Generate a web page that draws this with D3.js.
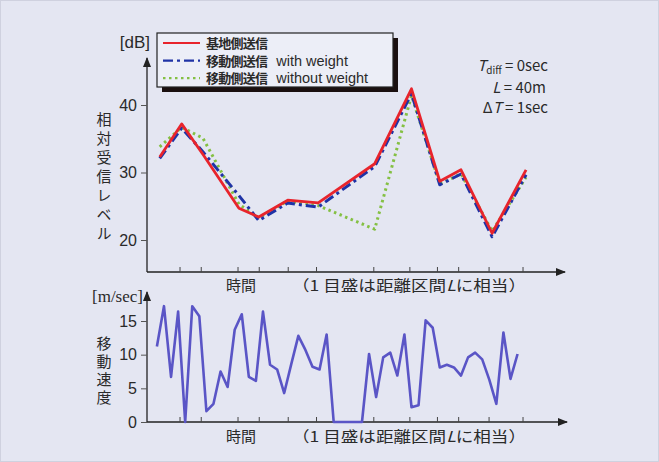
<!DOCTYPE html>
<html>
<head>
<meta charset="utf-8">
<script src="https://cdn.jsdelivr.net/npm/d3@7"></script>
<style>
  body { margin: 0; background: #e4e6f2; }
  svg { display: block; }
  text { font-family: "Noto Sans CJK JP", "Noto Sans", sans-serif; fill: #2a2a2a; }
</style>
</head>
<body>
<div id="chart"></div>
<script>
// time axis (seconds) of the level samples and the distance ticks
const levelTimes = [0.4, 3.5, 6.5, 11.6, 14.4, 18.5, 22.8, 30.8, 36, 40, 43, 47.4, 52.2];
const tickTimes = [3.2, 6.2, 11.4, 14.4, 18.5, 22.5, 30.6, 35.7, 39.6, 42.6, 46.9, 51.7];

// relative received level [dB]
const baseTx = [32.3, 37.2, 32.7, 24.7, 23.4, 25.9, 25.5, 31.3, 42.4, 28.7, 30.4, 21.0, 30.4];
const mobileWeighted = [32.3, 36.8, 33.3, 26.8, 23.1, 25.7, 25.1, 31.1, 41.9, 28.4, 30.0, 20.7, 29.9];
const mobileUnweighted = [33.8, 36.7, 35.1, 25.3, 23.3, 25.8, 25.1, 21.6, 41.4, 28.3, 29.8, 21.3, 29.3];

// moving speed [m/sec], one sample per second
const speed = [11.2, 17.2, 6.7, 16.4, 0, 17.2, 15.7, 1.6, 2.7, 7.5, 5.2, 13.7, 16.0, 6.7, 6.1,
  16.4, 8.5, 7.8, 4.3, 8.6, 12.8, 10.7, 8.2, 7.8, 13.0, 0, 0, 0, 0, 0,
  10.1, 3.7, 9.6, 10.3, 6.9, 13.0, 2.2, 2.5, 15.1, 14.0, 8.1, 8.5, 8.1, 6.9, 9.6,
  10.3, 9.3, 6.3, 2.7, 13.3, 6.4, 10.1];

const levelTicks = [20, 30, 40];
const speedTicks = [0, 5, 10, 15];

const svg = d3.select("#chart")
    .append("svg")
    .attr("width", 659)
    .attr("height", 462);

svg.append("rect")
    .attr("x", 0.5).attr("y", 0.5)
    .attr("width", 658).attr("height", 461)
    .attr("fill", "#e4e6f2")
    .attr("stroke", "#cfd1df");

const defs = svg.append("defs");
defs.append("marker")
    .attr("id", "arrow")
    .attr("viewBox", "0 0 10 10")
    .attr("refX", 9).attr("refY", 5)
    .attr("markerWidth", 10).attr("markerHeight", 10)
    .attr("markerUnits", "userSpaceOnUse")
    .attr("orient", "auto")
    .append("path")
    .attr("d", "M0,1 L10,5 L0,9 Z")
    .attr("fill", "#222");

const x = d3.scaleLinear().domain([-1.4, 57]).range([147, 560]);
const yTop = d3.scaleLinear().domain([20, 40]).range([240, 105]);
const yBot = d3.scaleLinear().domain([0, 15]).range([422, 321]);

function drawAxes(y, ticks, yBase, yTip, xTip) {
    const g = svg.append("g");
    // axis lines with arrows
    g.append("line")
        .attr("x1", x.range()[0]).attr("y1", yBase)
        .attr("x2", x.range()[0]).attr("y2", yTip)
        .attr("stroke", "#222").attr("stroke-width", 1.3)
        .attr("marker-end", "url(#arrow)");
    g.append("line")
        .attr("x1", x.range()[0]).attr("y1", yBase)
        .attr("x2", xTip).attr("y2", yBase)
        .attr("stroke", "#222").attr("stroke-width", 1.3)
        .attr("marker-end", "url(#arrow)");

    const ya = g.append("g")
        .attr("transform", `translate(${x.range()[0]},0)`)
        .call(d3.axisLeft(y).tickValues(ticks).tickSize(6).tickPadding(4));
    ya.select(".domain").remove();
    ya.selectAll("line").attr("stroke", "#555");
    ya.selectAll("text")
        .style("font-family", "'Liberation Sans', sans-serif")
        .style("font-size", "16px")
        .attr("fill", "#333");

    const xa = g.append("g")
        .attr("transform", `translate(0,${yBase})`)
        .call(d3.axisBottom(x).tickValues(tickTimes).tickSize(-5).tickFormat(""));
    xa.select(".domain").remove();
    xa.selectAll("line").attr("stroke", "#444");
}

function timeLabel(yText) {
    svg.append("text")
        .attr("x", 226).attr("y", yText)
        .style("font-size", "15px")
        .text("時間");
    const t = svg.append("text")
        .attr("x", 292).attr("y", yText)
        .style("font-size", "15px")
        .attr("textLength", 234)
        .attr("lengthAdjust", "spacingAndGlyphs");
    t.append("tspan").text("（1 目盛は距離区間");
    t.append("tspan").style("font-style", "italic").text("L");
    t.append("tspan").text("に相当）");
}

function verticalTitle(label, x0, y0, spacing) {
    svg.append("text")
        .attr("x", x0)
        .attr("y", y0)
        .style("writing-mode", "vertical-rl")
        .style("text-orientation", "upright")
        .style("font-size", "15px")
        .style("letter-spacing", spacing + "px")
        .text(label);
}

// ---- top chart ----
drawAxes(yTop, levelTicks, 272, 58, 565);
timeLabel(291);
verticalTitle("相対受信レベル", 104, 112, 4);

svg.append("text")
    .attr("x", 150).attr("y", 48)
    .attr("text-anchor", "end")
    .style("font-family", "'Liberation Sans', sans-serif")
    .style("font-size", "17px")
    .attr("fill", "#444")
    .text("[dB]");

const levelLine = d3.line()
    .x((d, i) => x(levelTimes[i]))
    .y(d => yTop(d));

const series = [
    { jp: "移動側送信", en: "without weight", values: mobileUnweighted, color: "#84c043", dash: "2.5,3.5", w: 3 },
    { jp: "移動側送信", en: "with weight", values: mobileWeighted, color: "#1f33a6", dash: "10,4,3,4", w: 3 },
    { jp: "基地側送信", en: "", values: baseTx, color: "#e8242c", dash: null, w: 2.8 }
];

svg.append("g").selectAll("path")
    .data(series)
    .enter()
    .append("path")
    .attr("d", d => levelLine(d.values))
    .attr("fill", "none")
    .attr("stroke", d => d.color)
    .attr("stroke-width", d => d.w)
    .attr("stroke-dasharray", d => d.dash)
    .attr("stroke-linejoin", "round")
    .attr("transform", (d, i) => i === 1 ? "translate(0,1.5)" : null);

// legend
const legend = svg.append("g");
legend.append("rect")
    .attr("x", 162).attr("y", 38)
    .attr("width", 236).attr("height", 54)
    .attr("fill", "#1a1010");
legend.append("rect")
    .attr("x", 157).attr("y", 33)
    .attr("width", 236).attr("height", 54)
    .attr("fill", "#eceef7")
    .attr("stroke", "#222").attr("stroke-width", 1.2);

const legendRows = legend.selectAll("g.row")
    .data(series.slice().reverse())
    .enter()
    .append("g")
    .attr("class", "row")
    .attr("transform", (d, i) => `translate(0,${43 + i * 17.6})`);
legendRows.append("line")
    .attr("x1", 163).attr("x2", 200)
    .attr("y1", 0).attr("y2", 0)
    .attr("stroke", d => d.color)
    .attr("stroke-width", 2.2)
    .attr("stroke-dasharray", d => d.dash);
const legendText = legendRows.append("text")
    .attr("x", 206).attr("y", 5)
    .style("font-size", "12px")
    .attr("fill", "#222");
legendText.append("tspan")
    .style("font-weight", "bold")
    .style("font-size", "13px")
    .attr("textLength", 62)
    .text(d => d.jp);
legendText.append("tspan")
    .attr("dx", 9)
    .style("font-family", "'Liberation Sans', sans-serif")
    .style("font-size", "14.5px")
    .text(d => d.en);

// parameters
const params = svg.append("g").style("font-family", "'Liberation Sans', sans-serif").style("font-size", "15px");
const p1 = params.append("text").attr("x", 548).attr("y", 71).attr("text-anchor", "end").attr("fill", "#333");
p1.append("tspan").style("font-style", "italic").text("T");
p1.append("tspan").attr("dy", 3).style("font-size", "10px").text("diff");
p1.append("tspan").attr("dy", -3).text(" = 0sec");
const p2 = params.append("text").attr("x", 546).attr("y", 93).attr("text-anchor", "end").attr("fill", "#333");
p2.append("tspan").style("font-style", "italic").text("L");
p2.append("tspan").text(" = 40m");
const p3 = params.append("text").attr("x", 548).attr("y", 113).attr("text-anchor", "end").attr("fill", "#333");
p3.append("tspan").text("Δ");
p3.append("tspan").style("font-style", "italic").text("T");
p3.append("tspan").text(" = 1sec");

// ---- bottom chart ----
drawAxes(yBot, speedTicks, 422, 292, 567);
timeLabel(442);
verticalTitle("移動速度", 104, 336, 3);

svg.append("text")
    .attr("x", 143).attr("y", 302)
    .attr("text-anchor", "end")
    .style("font-family", "'Liberation Serif', serif")
    .style("font-size", "17px")
    .attr("fill", "#333")
    .text("[m/sec]");

const speedLine = d3.line()
    .x((d, i) => x(i))
    .y(d => yBot(d));

svg.append("path")
    .datum(speed)
    .attr("d", speedLine)
    .attr("fill", "none")
    .attr("stroke", "#5a55c6")
    .attr("stroke-width", 2.6)
    .attr("stroke-linejoin", "round");
</script>
</body>
</html>
